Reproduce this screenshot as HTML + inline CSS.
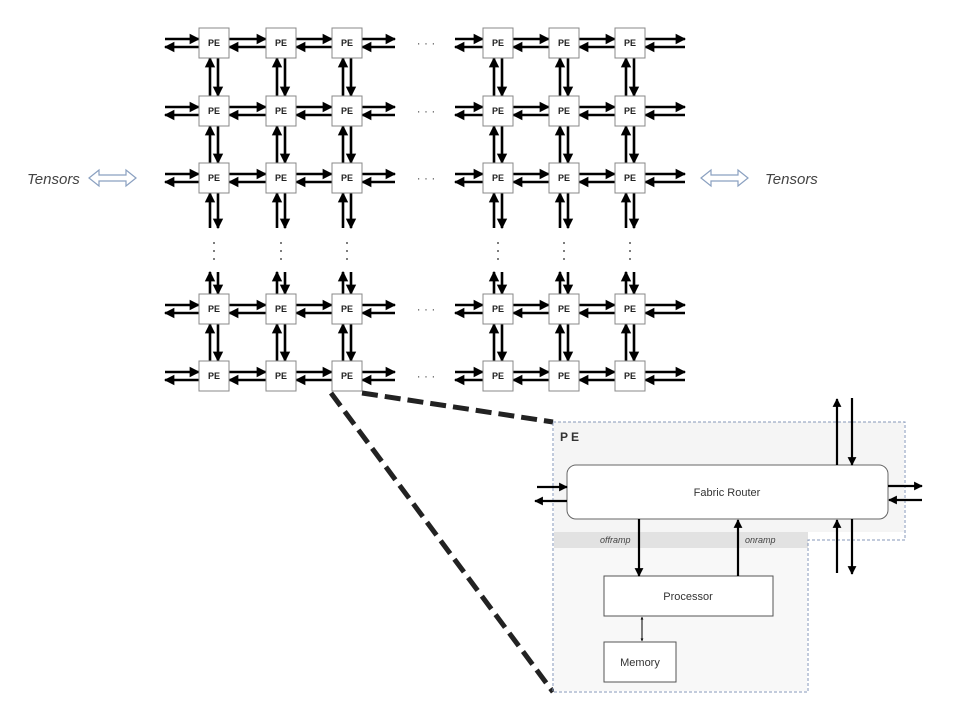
<!DOCTYPE html>
<html><head><meta charset="utf-8"><style>
html,body{margin:0;padding:0;background:#fff}
svg{display:block}
text{font-family:"Liberation Sans",sans-serif}
</style></head><body>
<svg width="954" height="712" viewBox="0 0 954 712" xmlns="http://www.w3.org/2000/svg">
<defs>
<marker id="a" viewBox="0 0 10 10" refX="9" refY="5" markerWidth="4" markerHeight="4.4" orient="auto" markerUnits="strokeWidth"><path d="M0,0 L10,5 L0,10 z" fill="#000"/></marker>
<marker id="s" viewBox="0 0 10 10" refX="9" refY="5" markerWidth="3" markerHeight="3" orient="auto-start-reverse" markerUnits="strokeWidth"><path d="M0,0 L10,5 L0,10 z" fill="#000"/></marker>
<g id="hr" stroke="#000" stroke-width="2.6" marker-end="url(#a)">
<line x1="165" y1="-4" x2="199" y2="-4"/><line x1="199" y1="4" x2="165" y2="4"/>
<line x1="229" y1="-4" x2="266" y2="-4"/><line x1="266" y1="4" x2="229" y2="4"/>
<line x1="296" y1="-4" x2="332" y2="-4"/><line x1="332" y1="4" x2="296" y2="4"/>
<line x1="362" y1="-4" x2="395" y2="-4"/><line x1="395" y1="4" x2="362" y2="4"/>
<line x1="455" y1="-4" x2="483" y2="-4"/><line x1="483" y1="4" x2="455" y2="4"/>
<line x1="513" y1="-4" x2="549" y2="-4"/><line x1="549" y1="4" x2="513" y2="4"/>
<line x1="579" y1="-4" x2="615" y2="-4"/><line x1="615" y1="4" x2="579" y2="4"/>
<line x1="645" y1="-4" x2="685" y2="-4"/><line x1="685" y1="4" x2="645" y2="4"/>
</g>
<g id="vc" stroke="#000" stroke-width="2.6" marker-end="url(#a)">
<line x1="-4" y1="96" x2="-4" y2="58"/><line x1="4" y1="58" x2="4" y2="96"/>
<line x1="-4" y1="163" x2="-4" y2="126"/><line x1="4" y1="126" x2="4" y2="163"/>
<line x1="-4" y1="228" x2="-4" y2="193"/><line x1="4" y1="193" x2="4" y2="228"/>
<line x1="-4" y1="294" x2="-4" y2="272"/><line x1="4" y1="272" x2="4" y2="294"/>
<line x1="-4" y1="361" x2="-4" y2="324"/><line x1="4" y1="324" x2="4" y2="361"/>
<circle cx="0" cy="243" r="1" fill="#555" stroke="none"/><circle cx="0" cy="251" r="1" fill="#555" stroke="none"/><circle cx="0" cy="259" r="1" fill="#555" stroke="none"/>
</g>
<g id="bx"><rect x="-15" y="-15" width="30" height="30" fill="#fff" stroke="#888" stroke-width="1"/></g>
</defs>

<use href="#hr" y="43"/><use href="#hr" y="111"/><use href="#hr" y="178"/><use href="#hr" y="309"/><use href="#hr" y="376"/>
<use href="#vc" x="214"/><use href="#vc" x="281"/><use href="#vc" x="347"/><use href="#vc" x="498"/><use href="#vc" x="564"/><use href="#vc" x="630"/>

<g>
<use href="#bx" x="214" y="43"/><use href="#bx" x="281" y="43"/><use href="#bx" x="347" y="43"/><use href="#bx" x="498" y="43"/><use href="#bx" x="564" y="43"/><use href="#bx" x="630" y="43"/>
<use href="#bx" x="214" y="111"/><use href="#bx" x="281" y="111"/><use href="#bx" x="347" y="111"/><use href="#bx" x="498" y="111"/><use href="#bx" x="564" y="111"/><use href="#bx" x="630" y="111"/>
<use href="#bx" x="214" y="178"/><use href="#bx" x="281" y="178"/><use href="#bx" x="347" y="178"/><use href="#bx" x="498" y="178"/><use href="#bx" x="564" y="178"/><use href="#bx" x="630" y="178"/>
<use href="#bx" x="214" y="309"/><use href="#bx" x="281" y="309"/><use href="#bx" x="347" y="309"/><use href="#bx" x="498" y="309"/><use href="#bx" x="564" y="309"/><use href="#bx" x="630" y="309"/>
<use href="#bx" x="214" y="376"/><use href="#bx" x="281" y="376"/><use href="#bx" x="347" y="376"/><use href="#bx" x="498" y="376"/><use href="#bx" x="564" y="376"/><use href="#bx" x="630" y="376"/>
</g>
<g font-size="9" font-weight="bold" text-anchor="middle" fill="#222">
<text x="214" y="46">PE</text><text x="281" y="46">PE</text><text x="347" y="46">PE</text><text x="498" y="46">PE</text><text x="564" y="46">PE</text><text x="630" y="46">PE</text>
<text x="214" y="114">PE</text><text x="281" y="114">PE</text><text x="347" y="114">PE</text><text x="498" y="114">PE</text><text x="564" y="114">PE</text><text x="630" y="114">PE</text>
<text x="214" y="181">PE</text><text x="281" y="181">PE</text><text x="347" y="181">PE</text><text x="498" y="181">PE</text><text x="564" y="181">PE</text><text x="630" y="181">PE</text>
<text x="214" y="312">PE</text><text x="281" y="312">PE</text><text x="347" y="312">PE</text><text x="498" y="312">PE</text><text x="564" y="312">PE</text><text x="630" y="312">PE</text>
<text x="214" y="379">PE</text><text x="281" y="379">PE</text><text x="347" y="379">PE</text><text x="498" y="379">PE</text><text x="564" y="379">PE</text><text x="630" y="379">PE</text>
</g>
<g font-size="12" fill="#555" text-anchor="middle">
<text x="426" y="47">· · ·</text><text x="426" y="115">· · ·</text><text x="426" y="182">· · ·</text><text x="426" y="313">· · ·</text><text x="426" y="380">· · ·</text>
</g>

<text x="27" y="184" font-size="15" font-style="italic" fill="#444">Tensors</text>
<text x="765" y="184" font-size="15" font-style="italic" fill="#444">Tensors</text>
<path d="M89,178 L99,170 L99,175 L126,175 L126,170 L136,178 L126,186 L126,181 L99,181 L99,186 Z" fill="#fff" stroke="#8aa0c0" stroke-width="1.2"/>
<path d="M701,178 L711,170 L711,175 L738,175 L738,170 L748,178 L738,186 L738,181 L711,181 L711,186 Z" fill="#fff" stroke="#8aa0c0" stroke-width="1.2"/>

<line x1="331" y1="393" x2="553" y2="692" stroke="#222" stroke-width="5" stroke-dasharray="16,7"/>
<line x1="362" y1="393" x2="553" y2="422" stroke="#222" stroke-width="5" stroke-dasharray="16,7"/>

<rect x="554" y="422" width="350" height="110" fill="#f5f5f5"/>
<rect x="554" y="532" width="254" height="16" fill="#e2e2e2"/>
<rect x="554" y="548" width="253" height="143" fill="#f8f8f8"/>
<path d="M553,422 H905 V540 H808 V692 H553 Z" fill="none" stroke="#8597b8" stroke-width="1" stroke-dasharray="3,2"/>
<text x="560" y="441" font-size="12" font-weight="bold" fill="#333" letter-spacing="3">PE</text>
<rect x="567" y="465" width="321" height="54" rx="9" fill="#fff" stroke="#666" stroke-width="1"/>
<text x="727" y="496" font-size="11" text-anchor="middle" fill="#333">Fabric Router</text>
<rect x="604" y="576" width="169" height="40" fill="#fff" stroke="#555" stroke-width="1"/>
<text x="688" y="600" font-size="11" text-anchor="middle" fill="#333">Processor</text>
<rect x="604" y="642" width="72" height="40" fill="#fff" stroke="#555" stroke-width="1"/>
<text x="640" y="666" font-size="11" text-anchor="middle" fill="#333">Memory</text>
<text x="600" y="543" font-size="9" font-style="italic" fill="#444">offramp</text>
<text x="745" y="543" font-size="9" font-style="italic" fill="#444">onramp</text>
<g stroke="#000" stroke-width="2.2" marker-end="url(#a)">
<line x1="639" y1="519" x2="639" y2="576"/>
<line x1="738" y1="576" x2="738" y2="520"/>
<line x1="837" y1="465" x2="837" y2="399"/>
<line x1="852" y1="398" x2="852" y2="465"/>
<line x1="837" y1="573" x2="837" y2="520"/>
<line x1="852" y1="519" x2="852" y2="574"/>
<line x1="537" y1="487" x2="567" y2="487"/>
<line x1="567" y1="501" x2="535" y2="501"/>
<line x1="888" y1="486" x2="922" y2="486"/>
<line x1="922" y1="500" x2="889" y2="500"/>
</g>
<line x1="642" y1="617" x2="642" y2="641" stroke="#000" stroke-width="1" marker-start="url(#s)" marker-end="url(#s)"/>
</svg>
</body></html>
